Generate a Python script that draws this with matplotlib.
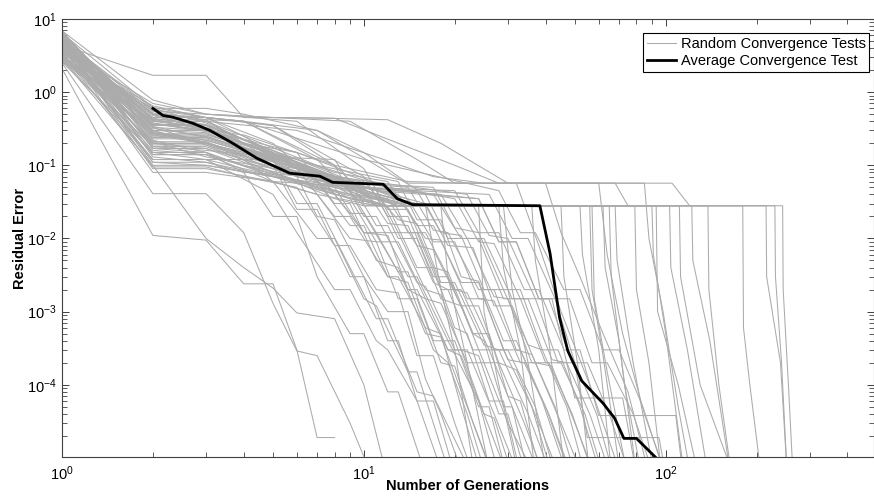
import matplotlib
matplotlib.use("Agg")
import matplotlib.pyplot as plt
from matplotlib.ticker import NullFormatter

plt.rcParams['font.family'] = ['Liberation Sans', 'DejaVu Sans']
plt.rcParams['mathtext.fontset'] = 'custom'
plt.rcParams['mathtext.rm'] = 'Liberation Sans'
plt.rcParams['mathtext.it'] = 'Liberation Sans:italic'
plt.rcParams['mathtext.bf'] = 'Liberation Sans:bold'

# runs that fall very quickly in the first generations
early_runs = [
    ([1, 2, 3, 4, 5, 6, 7, 8], [2.1, 0.011, 0.0095, 2.4e-3, 2.4e-3, 3e-4, 1.9e-5, 1.9e-5]),
    ([1, 2, 3, 4, 5, 6, 8, 10, 12], [5.2, 0.1, 0.01, 4e-3, 2.1e-3, 9.6e-4, 8e-4, 1e-4, 5e-6]),
    ([1, 2, 3, 4, 5, 6, 7, 9, 11], [2.5, 0.041, 0.041, 0.012, 1.3e-3, 2.9e-4, 2.5e-4, 3e-5, 4e-6]),
]

# runs that keep improving and reach the floor between ~16 and ~100 generations
fast_runs = [
    ([1, 2, 3, 4, 5, 6, 7, 9, 10, 12, 13, 16], [4.6, 0.22, 0.15, 0.08, 0.02, 0.02, 3e-3, 5e-4, 5e-4, 8e-5, 8e-5, 6e-6]),
    ([1, 2, 3, 5, 6, 7, 9, 10, 12, 13, 15, 18], [3.8, 0.35, 0.35, 0.1, 0.025, 0.025, 3e-3, 3e-3, 4e-4, 4e-4, 6e-5, 7e-6]),
    ([1, 2, 3, 4, 5, 7, 8, 10, 11, 14, 15, 19], [4.7, 0.27, 0.21, 0.12, 0.06, 0.01, 0.01, 1.5e-3, 1.2e-3, 1.5e-4, 1.5e-4, 7e-6]),
    ([1, 2, 3, 5, 6, 8, 9, 11, 12, 15, 17, 20], [5.5, 0.15, 0.12, 0.04, 0.012, 2e-3, 2e-3, 4e-4, 3e-4, 6e-5, 6e-5, 6e-6]),
    ([1, 2, 3, 4, 6, 7, 8, 10, 12, 14, 16, 18, 21], [4.2, 0.5, 0.3, 0.2, 0.07, 0.02, 0.018, 3e-3, 1e-3, 1e-3, 1.2e-4, 4e-5, 7e-6]),
    ([1, 2, 3, 5, 6, 7, 9, 11, 12, 15, 17, 22], [2.9, 0.12, 0.12, 0.12, 0.03, 0.03, 4e-3, 8e-4, 8e-4, 8e-5, 7e-5, 8e-6]),
    ([1, 2, 3, 4, 6, 8, 9, 11, 13, 15, 17, 20, 23], [3.4, 0.095, 0.095, 0.07, 0.05, 0.008, 0.008, 2e-3, 1.8e-3, 2.5e-4, 2.5e-4, 3e-5, 6e-6]),
    ([1, 2, 3, 5, 6, 8, 9, 12, 13, 16, 18, 21, 24], [6.1, 0.28, 0.2, 0.1, 0.09, 0.02, 0.02, 3e-3, 3e-3, 6e-4, 5e-4, 5e-5, 8e-6]),
    ([1, 2, 3, 4, 7, 9, 10, 12, 14, 17, 19, 22, 25], [3.5, 0.45, 0.45, 0.25, 0.06, 0.015, 0.015, 3e-3, 2.5e-3, 3e-4, 2e-4, 4e-5, 7e-6]),
    ([1, 2, 3, 4, 6, 8, 9, 11, 13, 16, 18, 22, 26], [5.6, 0.43, 0.3, 0.2, 0.15, 0.03, 0.03, 5e-3, 4e-3, 5e-4, 4.5e-4, 5e-5, 8e-6]),
    ([1, 2, 3, 5, 7, 9, 11, 13, 15, 18, 20, 23, 27], [4.9, 0.09, 0.09, 0.06, 0.04, 0.01, 0.009, 1.5e-3, 1.5e-3, 2e-4, 1.8e-4, 3e-5, 5e-6]),
    ([1, 2, 3, 5, 7, 9, 10, 13, 14, 17, 19, 24, 28], [3.1, 0.6, 0.38, 0.15, 0.08, 0.022, 0.022, 3.5e-3, 3.5e-3, 4e-4, 4e-4, 6e-5, 6e-6]),
    ([1, 2, 3, 4, 6, 8, 10, 11, 14, 15, 19, 21, 25, 29], [5.0, 0.18, 0.18, 0.12, 0.07, 0.05, 0.012, 0.012, 2e-3, 2e-3, 3e-4, 2.5e-4, 4e-5, 8e-6]),
    ([1, 2, 3, 5, 8, 10, 11, 14, 15, 19, 20, 24, 26, 30], [4.4, 0.45, 0.45, 0.35, 0.1, 0.02, 0.02, 3e-3, 3e-3, 4e-4, 4e-4, 5e-5, 5e-5, 5e-6]),
    ([1, 2, 3, 6, 8, 10, 12, 14, 16, 19, 21, 25, 27, 31], [2.6, 0.4, 0.4, 0.1, 0.04, 0.012, 0.011, 2e-3, 1.5e-3, 3e-4, 3e-4, 4e-5, 3.5e-5, 6e-6]),
    ([1, 2, 3, 4, 7, 9, 11, 12, 15, 16, 20, 22, 27, 32], [6.5, 0.13, 0.11, 0.08, 0.07, 0.06, 0.015, 0.015, 2.5e-3, 2.2e-3, 3e-4, 3e-4, 4e-5, 7e-6]),
    ([1, 2, 3, 5, 8, 10, 12, 15, 17, 20, 22, 26, 29, 33], [2.9, 0.18, 0.16, 0.13, 0.12, 0.03, 0.028, 4e-3, 4e-3, 6e-4, 5e-4, 6e-5, 6e-5, 6e-6]),
    ([1, 2, 3, 6, 9, 11, 13, 16, 18, 21, 24, 28, 30, 34], [3.9, 0.3, 0.3, 0.08, 0.045, 0.012, 0.012, 2e-3, 1.7e-3, 3e-4, 2.5e-4, 4e-5, 4e-5, 7e-6]),
    ([1, 2, 3, 5, 10, 12, 14, 17, 19, 23, 25, 29, 31, 35], [4.8, 0.5, 0.45, 0.35, 0.07, 0.02, 0.02, 3e-3, 3e-3, 5e-4, 4e-4, 5e-5, 5e-5, 6e-6]),
    ([1, 2, 3, 5, 7, 9, 11, 13, 16, 18, 22, 25, 30, 36], [6.4, 0.62, 0.45, 0.2, 0.06, 0.035, 0.009, 0.009, 1.5e-3, 1.3e-3, 2e-4, 2e-4, 3e-5, 7e-6]),
    ([1, 2, 3, 4, 7, 10, 12, 14, 17, 19, 23, 26, 31, 37], [3.3, 0.2, 0.2, 0.15, 0.08, 0.05, 0.016, 0.015, 2.5e-3, 2e-3, 3e-4, 3e-4, 5e-5, 8e-6]),
    ([1, 2, 3, 6, 10, 12, 14, 17, 19, 23, 26, 30, 33, 38], [4.0, 0.7, 0.5, 0.4, 0.09, 0.025, 0.025, 4e-3, 3.5e-3, 5e-4, 5e-4, 7e-5, 6e-5, 8e-6]),
    ([1, 2, 3, 5, 8, 11, 13, 15, 18, 21, 25, 28, 34, 40], [2.8, 0.1, 0.1, 0.07, 0.05, 0.04, 0.01, 0.01, 1.5e-3, 1.2e-3, 2e-4, 2e-4, 3e-5, 5e-6]),
    ([1, 2, 3, 4, 6, 10, 13, 15, 18, 20, 25, 28, 35, 41], [6.8, 0.33, 0.2, 0.15, 0.09, 0.06, 0.018, 0.016, 2.5e-3, 2.5e-3, 3.5e-4, 3e-4, 4e-5, 7e-6]),
    ([1, 2, 3, 5, 8, 12, 14, 16, 20, 22, 27, 30, 37, 43], [3.6, 0.27, 0.27, 0.13, 0.07, 0.05, 0.012, 0.012, 2e-3, 1.8e-3, 3e-4, 3e-4, 5e-5, 6e-6]),
    ([1, 2, 3, 6, 9, 12, 15, 17, 21, 24, 28, 32, 38, 45], [4.5, 0.14, 0.14, 0.06, 0.04, 0.035, 8e-3, 7e-3, 1.2e-3, 1.2e-3, 2e-4, 1.6e-4, 3e-5, 5e-6]),
    ([1, 2, 3, 4, 7, 13, 15, 18, 21, 24, 29, 32, 39, 46], [5.3, 0.55, 0.4, 0.25, 0.1, 0.06, 0.018, 0.018, 3e-3, 2.6e-3, 4e-4, 4e-4, 6e-5, 8e-6]),
    ([1, 2, 3, 5, 10, 13, 16, 18, 22, 25, 30, 34, 41, 48], [3.0, 0.38, 0.3, 0.15, 0.05, 0.04, 0.01, 0.0095, 1.5e-3, 1.5e-3, 2.2e-4, 2e-4, 4e-5, 7e-6]),
    ([1, 2, 3, 4, 8, 14, 17, 19, 24, 27, 32, 36, 43, 50], [6.0, 0.2, 0.17, 0.12, 0.06, 0.05, 0.013, 0.012, 2e-3, 2e-3, 3e-4, 2.6e-4, 5e-5, 6e-6]),
    ([1, 2, 3, 6, 11, 14, 17, 20, 24, 27, 33, 37, 45, 52], [4.1, 0.44, 0.35, 0.12, 0.045, 0.035, 9e-3, 9e-3, 1.5e-3, 1.4e-3, 2e-4, 2e-4, 3e-5, 7e-6]),
    ([1, 2, 3, 5, 9, 15, 18, 21, 25, 29, 35, 39, 47, 54], [5.1, 0.11, 0.1, 0.07, 0.05, 0.045, 0.012, 0.011, 2e-3, 2e-3, 3.5e-4, 3e-4, 5e-5, 6e-6]),
    ([1, 2, 3, 4, 7, 16, 19, 22, 27, 30, 36, 41, 49, 56], [3.4, 0.65, 0.45, 0.4, 0.3, 0.04, 0.01, 0.01, 1.6e-3, 1.5e-3, 2e-4, 2e-4, 4e-5, 8e-6]),
    ([1, 2, 3, 6, 10, 16, 19, 23, 27, 31, 37, 42, 50, 58], [4.7, 0.24, 0.24, 0.1, 0.05, 0.03, 8e-3, 7.5e-3, 1.2e-3, 1.2e-3, 2e-4, 1.8e-4, 3e-5, 6e-6]),
    ([1, 2, 3, 5, 8, 17, 20, 24, 29, 33, 39, 44, 52, 60], [2.7, 0.3, 0.19, 0.1, 0.06, 0.05, 0.014, 0.012, 2e-3, 2e-3, 3e-4, 3e-4, 5e-5, 7e-6]),
    ([1, 2, 3, 4, 9, 18, 22, 25, 31, 35, 42, 47, 56, 64], [5.9, 0.17, 0.15, 0.1, 0.05, 0.04, 0.01, 0.01, 1.5e-3, 1.5e-3, 2.2e-4, 2e-4, 4e-5, 8e-6]),
    ([1, 2, 3, 6, 12, 20, 24, 27, 33, 37, 44, 50, 59, 67], [3.7, 0.48, 0.3, 0.15, 0.05, 0.035, 9e-3, 8.5e-3, 1.5e-3, 1.5e-3, 2e-4, 2e-4, 4e-5, 6e-6]),
    ([1, 2, 3, 5, 10, 20, 24, 28, 34, 38, 46, 52, 60, 108, 114],
     [4.3, 0.08, 0.08, 0.06, 0.05, 0.045, 0.012, 0.012, 2e-3, 2e-3, 3e-4, 3e-4, 3.8e-5, 3.8e-5, 6e-6]),
    ([1, 2, 3, 4, 8, 22, 26, 30, 37, 41, 49, 55, 65, 74], [6.3, 0.36, 0.36, 0.2, 0.07, 0.04, 0.011, 0.01, 1.5e-3, 1.5e-3, 2e-4, 2e-4, 4e-5, 8e-6]),
    ([1, 2, 3, 6, 11, 24, 28, 32, 38, 43, 50, 55, 95, 100],
     [3.2, 0.21, 0.13, 0.08, 0.045, 0.035, 9e-3, 9e-3, 1.5e-3, 1.5e-3, 2e-4, 1.9e-5, 1.9e-5, 6e-6]),
    ([1, 2, 3, 5, 9, 26, 31, 35, 43, 48, 57, 64, 78, 91], [5.4, 0.29, 0.22, 0.12, 0.05, 0.04, 0.01, 0.01, 1.5e-3, 1.5e-3, 2e-4, 2e-4, 4e-5, 6e-6]),
    ([1, 2, 3, 4, 10, 28, 33, 37, 46, 52, 62, 70, 84, 97], [4.0, 0.52, 0.42, 0.4, 0.12, 0.045, 0.012, 0.012, 2e-3, 2e-3, 3e-4, 3e-4, 5e-5, 8e-6]),
    ([1, 2, 3, 5, 10, 24, 28, 32, 38, 42, 50, 72, 80], [5.1, 0.21, 0.21, 0.1, 0.05, 0.035, 9e-3, 9e-3, 1.5e-3, 1.5e-3, 6.6e-5, 6.6e-5, 6e-6]),
    ([1, 2, 3, 4, 8, 12, 15, 17, 21, 24, 29, 33, 40, 47], [4.5, 0.49, 0.36, 0.22, 0.08, 0.06, 0.015, 0.015, 2.5e-3, 2.5e-3, 3e-4, 3e-4, 5e-5, 8e-6]),
    ([1, 2, 3, 6, 12, 17, 21, 24, 29, 33, 40, 45, 54, 62], [3.0, 0.26, 0.26, 0.12, 0.05, 0.04, 0.01, 0.01, 1.5e-3, 1.5e-3, 2e-4, 2e-4, 4e-5, 6e-6]),
    ([1, 2, 3, 6, 10, 11, 13, 15, 18, 21, 26, 29, 36, 42], [3.8, 0.37, 0.29, 0.11, 0.05, 0.045, 0.012, 0.012, 2e-3, 2e-3, 3e-4, 3e-4, 5e-5, 6e-6]),
]

# runs that sit on the 0.028 local minimum before escaping
stuck_runs = [
    ([1, 2, 3, 5, 8, 10, 16, 18, 20, 23], [4.3, 0.19, 0.19, 0.08, 0.035, 0.028, 0.028, 2e-3, 3e-4, 8e-6]),
    ([1, 2, 3, 6, 9, 12, 18, 19, 22, 26], [5.6, 0.32, 0.25, 0.1, 0.04, 0.028, 0.028, 3e-3, 2e-4, 7e-6]),
    ([1, 2, 3, 5, 7, 11, 24, 25, 28, 32], [3.5, 0.14, 0.14, 0.06, 0.04, 0.028, 0.028, 1e-3, 1e-4, 8e-6]),
    ([1, 2, 3, 4, 7, 13, 28, 29, 33, 37], [6.2, 0.42, 0.42, 0.2, 0.07, 0.028, 0.028, 4e-3, 3e-4, 6e-6]),
    ([1, 2, 3, 6, 10, 14, 29, 31, 35, 40], [2.9, 0.26, 0.2, 0.09, 0.04, 0.028, 0.028, 2e-3, 2e-4, 7e-6]),
    ([1, 2, 3, 5, 9, 12, 36, 37, 41, 46], [4.8, 0.11, 0.11, 0.07, 0.035, 0.028, 0.028, 5e-3, 4e-4, 8e-6]),
    ([1, 2, 3, 4, 8, 11, 45, 46, 51, 56], [3.9, 0.58, 0.45, 0.4, 0.1, 0.028, 0.028, 3e-3, 2e-4, 6e-6]),
    ([1, 2, 3, 6, 11, 15, 52, 53, 60, 66], [5.2, 0.23, 0.23, 0.1, 0.045, 0.028, 0.028, 6e-3, 3e-4, 7e-6]),
    ([1, 2, 3, 5, 8, 13, 56, 57, 62, 70], [4.5, 0.37, 0.3, 0.15, 0.05, 0.028, 0.028, 2e-3, 2.5e-4, 8e-6]),
    ([1, 2, 3, 4, 9, 14, 57, 58, 64, 74], [3.3, 0.16, 0.14, 0.1, 0.04, 0.028, 0.028, 1.5e-3, 1.5e-4, 7e-6]),
    ([1, 2, 3, 5, 10, 16, 62, 63, 70, 80], [6.6, 0.3, 0.28, 0.12, 0.045, 0.028, 0.028, 4e-3, 4e-4, 6e-6]),
    ([1, 2, 3, 6, 9, 12, 65, 66, 73, 82], [4.1, 0.12, 0.12, 0.06, 0.035, 0.028, 0.028, 3e-3, 1e-4, 8e-6]),
    ([1, 2, 3, 4, 7, 10, 68, 69, 78, 91], [5.0, 0.5, 0.45, 0.4, 0.12, 0.028, 0.028, 5e-3, 2e-4, 7e-6]),
    ([1, 2, 3, 5, 9, 14, 79, 80, 88, 97], [3.7, 0.2, 0.2, 0.09, 0.05, 0.028, 0.028, 2e-3, 2e-4, 6e-6]),
    ([1, 2, 3, 6, 10, 13, 90, 91, 100, 114], [4.6, 0.34, 0.24, 0.11, 0.04, 0.028, 0.028, 6e-3, 5e-4, 8e-6]),
    ([1, 2, 3, 5, 8, 12, 93, 94, 110, 127], [2.6, 0.15, 0.15, 0.07, 0.04, 0.028, 0.028, 1e-3, 1e-4, 7e-6]),
    ([1, 2, 3, 4, 8, 15, 103, 104, 118, 138], [5.8, 0.41, 0.33, 0.2, 0.06, 0.028, 0.028, 4e-3, 3e-4, 6e-6]),
    ([1, 2, 3, 6, 11, 16, 111, 112, 130, 163], [4.2, 0.25, 0.25, 0.1, 0.04, 0.028, 0.028, 3e-3, 1e-4, 8e-6]),
    ([1, 2, 3, 5, 9, 13, 122, 123, 140, 163], [3.6, 0.4, 0.32, 0.14, 0.05, 0.028, 0.028, 5e-3, 4e-4, 7e-6]),
    ([1, 2, 3, 4, 7, 12, 138, 139, 150, 165], [6.0, 0.17, 0.17, 0.11, 0.05, 0.028, 0.028, 2e-3, 1e-4, 6e-6]),
    ([1, 2, 3, 6, 10, 15, 180, 181, 190, 205], [4.9, 0.28, 0.22, 0.1, 0.04, 0.028, 0.028, 6e-4, 1e-4, 8e-6]),
    ([1, 2, 3, 5, 8, 11, 215, 216, 240, 252], [3.2, 0.36, 0.36, 0.16, 0.06, 0.028, 0.028, 3e-3, 2e-4, 7e-6]),
]

# runs that hang around the 0.057 level first
slow_runs = [
    ([1, 2, 3, 4, 6, 12, 18, 30, 105, 120, 244, 245, 255, 264],
     [4.4, 1.7, 1.7, 0.45, 0.45, 0.42, 0.2, 0.057, 0.057, 0.028, 0.028, 2e-3, 1e-4, 6e-6]),
    ([1, 2, 3, 5, 8, 13, 20, 28, 68, 75, 230, 231, 242, 252],
     [3.6, 0.55, 0.5, 0.45, 0.44, 0.2, 0.1, 0.057, 0.057, 0.028, 0.028, 3e-3, 2e-4, 7e-6]),
    ([1, 2, 3, 4, 7, 10, 14, 40, 45, 52, 62, 75, 88],
     [5.3, 0.6, 0.6, 0.5, 0.3, 0.15, 0.057, 0.057, 0.012, 3e-3, 5e-4, 8e-5, 6e-6]),
    ([1, 2, 3, 5, 9, 15, 20, 32, 38, 45, 56, 70],
     [6.9, 0.78, 0.5, 0.45, 0.4, 0.12, 0.057, 0.057, 8e-3, 1e-3, 1e-4, 7e-6]),
    ([1, 2, 3, 6, 11, 17, 25, 60, 64, 72, 85, 100],
     [4.9, 0.4, 0.4, 0.3, 0.13, 0.07, 0.057, 0.057, 6e-3, 5e-4, 4e-5, 6e-6]),
    ([1, 2, 3, 4, 8, 14, 22, 85, 88, 98, 110, 120],
     [3.1, 0.33, 0.3, 0.26, 0.1, 0.06, 0.057, 0.057, 0.01, 1e-3, 5e-5, 7e-6]),
]

avg_gen = [2, 2.16, 2.33, 2.71, 3.09, 3.68, 4.42, 5.68, 7.15, 7.88, 11.6, 12.9,
           14.5, 38.3, 41.4, 44.5, 47.4, 52.7, 62, 67.7, 72.7, 80, 93]
avg_err = [0.60, 0.48, 0.455, 0.376, 0.30, 0.20, 0.125, 0.078, 0.071, 0.0585, 0.055, 0.035,
           0.029, 0.028, 6.2e-3, 8.3e-4, 2.9e-4, 1.13e-4, 5.6e-5, 3.5e-5, 1.85e-5, 1.85e-5, 1e-5]

fig = plt.figure(figsize=(8.74, 4.97), dpi=100)
ax = fig.add_axes([62 / 874, 40 / 497, 811.5 / 874, 438 / 497])

gray = '#ababab'
first = True
for g, e in early_runs + fast_runs + stuck_runs + slow_runs:
    ax.plot(g, e, color=gray, lw=0.75, label='Random Convergence Tests' if first else None)
    first = False
ax.plot(avg_gen, avg_err, color='black', lw=2, label='Average Convergence Test')

ax.set_xscale('log')
ax.set_yscale('log')
ax.set_xlim(1, 488)
ax.set_ylim(1.03e-5, 10)

ax.set_xlabel('Number of Generations', fontsize=10.5, fontweight='bold')
ax.set_ylabel('Residual Error', fontsize=10.5, fontweight='bold')
ax.xaxis.set_label_coords(0.5, -0.05)
ax.yaxis.set_label_coords(-0.043, 0.5)

ax.tick_params(which='both', direction='in', top=True, right=True, labelsize=10.5, color='#404040')
ax.tick_params(which='major', length=5, width=0.7)
ax.tick_params(which='minor', length=3.5, width=0.6)
ax.tick_params(axis='y', which='major', pad=4)
ax.tick_params(axis='x', which='major', pad=5)
ax.xaxis.set_minor_formatter(NullFormatter())
ax.yaxis.set_minor_formatter(NullFormatter())
for s in ax.spines.values():
    s.set_color('#404040')
    s.set_linewidth(0.8)

leg = ax.legend(loc='upper right', bbox_to_anchor=(0.995, 0.968), borderaxespad=0,
                fancybox=False, framealpha=1, edgecolor='black', fontsize=10.5,
                handlelength=2.0, handletextpad=0.35, labelspacing=0.25, borderpad=0.25)
leg.get_frame().set_linewidth(0.8)

fig.savefig('out.png', dpi=100)
